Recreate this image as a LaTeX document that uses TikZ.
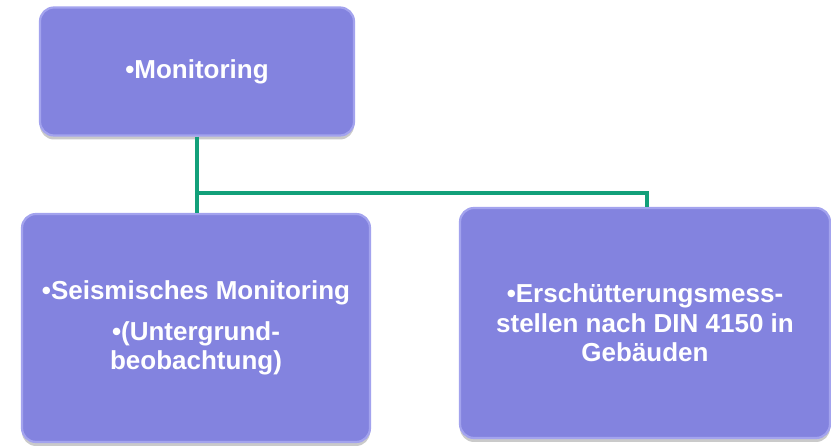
\documentclass[tikz,border=0pt]{standalone}
\usepackage{fontspec}
\setmainfont{Liberation Sans}
\usetikzlibrary{shadows}
\definecolor{boxfill}{HTML}{8383DF}
\definecolor{boxrim}{HTML}{A3A3EE}
\definecolor{linkgreen}{HTML}{12A07A}
\tikzset{
  x=1pt, y=1pt,
  orgbox/.style={rectangle, rounded corners=14pt, fill=boxfill, draw=boxrim, line width=2.2pt,
    drop shadow={shadow xshift=0pt, shadow yshift=-4pt, opacity=0.35, fill=black!60},
    text=white, font=\fontsize{26}{29.5}\selectfont\bfseries, align=center, inner sep=4pt},
  link/.style={draw=linkgreen, line width=3.6pt}
}
\begin{document}
\begin{tikzpicture}
\useasboundingbox (0,0) rectangle (831,446);
\node[orgbox, minimum width=314pt, minimum height=128pt] (top) at (197,374.5) {\textbullet Monitoring};
\node[orgbox, minimum width=348pt, minimum height=228pt] (left) at (196,118) {\textbullet Seismisches Monitoring\\[11pt]\textbullet(Untergrund-\\beobachtung)};
\node[orgbox, minimum width=370pt, minimum height=230pt] (right) at (645,123) {\textbullet Erschütterungsmess-\\stellen nach DIN 4150 in\\Gebäuden};
\coordinate (j) at (197,253);
\begin{scope}[on background layer/.try]
\end{scope}
\draw[link] (top.south) -- (j) -| ([xshift=2pt]right.north);
\draw[link] (j) -- (j |- left.north);
\end{tikzpicture}
\end{document}
